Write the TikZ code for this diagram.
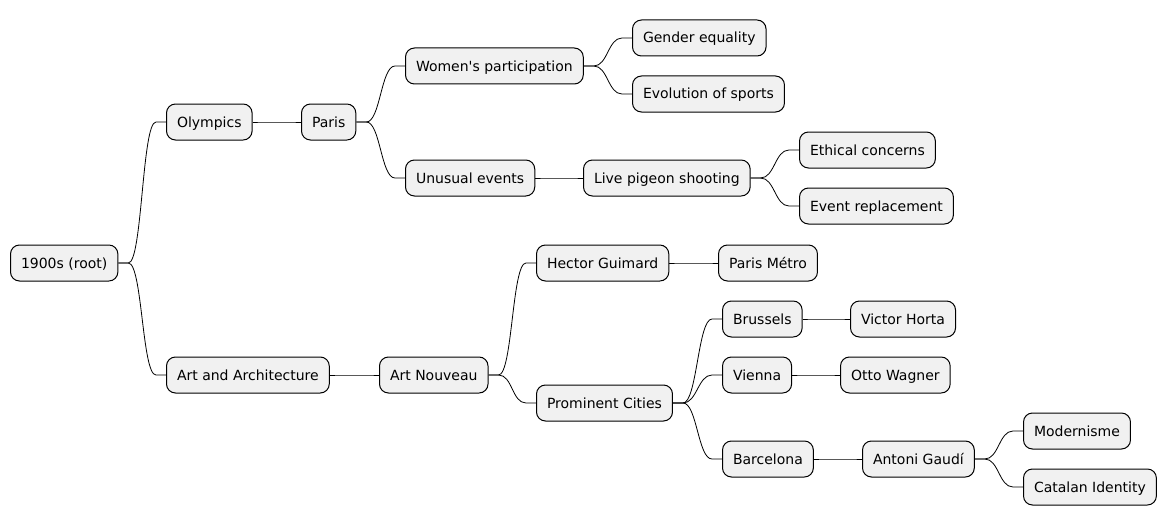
\documentclass[tikz,border=0pt]{standalone}
\usepackage{fontspec}
\setmainfont{DejaVu Sans}
\usetikzlibrary{calc}

\definecolor{boxfill}{HTML}{F1F1F1}
\tikzset{
  mmbox/.style={draw=black, fill=boxfill, line width=1pt, rounded corners=9pt,
    minimum height=36pt, inner xsep=10.5pt, inner ysep=0pt, anchor=west,
    text height=12pt, text depth=2pt,
    font=\fontsize{14}{16}\selectfont},
  link/.style={draw=black, line width=0.8pt}
}
% parent -> child connector
\newcommand{\branch}[2]{%
  \draw[link] (#1.east) -- ++(10,0) .. controls +(14,0) and +(-14,0) ..
    ($(#2.west)+(-10,0)$) -- (#2.west);}

\begin{document}
\begin{tikzpicture}[x=1pt,y=-1pt]
\useasboundingbox (0,0) rectangle (1165,527);

% Level 0 and 1
\node[mmbox] (root) at (10,263) {1900s (root)};
\node[mmbox] (olympics) at (166,122) {Olympics};
\node[mmbox] (artarch) at (166,375) {Art and Architecture};

% Olympics branch
\node[mmbox] (paris) at (301,122) {Paris};
\node[mmbox] (women) at (405,66) {Women\textquotesingle s participation};
\node[mmbox] (gender) at (632,38) {Gender equality};
\node[mmbox] (evolution) at (632,94) {Evolution of sports};
\node[mmbox] (unusual) at (405,178) {Unusual events};
\node[mmbox] (pigeon) at (583,178) {Live pigeon shooting};
\node[mmbox] (ethical) at (799,150) {Ethical concerns};
\node[mmbox] (replace) at (799,206) {Event replacement};

% Art branch
\node[mmbox] (nouveau) at (379,375) {Art Nouveau};
\node[mmbox] (guimard) at (536,263) {Hector Guimard};
\node[mmbox] (metro) at (718,263) {Paris Métro};
\node[mmbox] (cities) at (536,403) {Prominent Cities};
\node[mmbox] (brussels) at (722,319) {Brussels};
\node[mmbox] (horta) at (850,319) {Victor Horta};
\node[mmbox] (vienna) at (722,375) {Vienna};
\node[mmbox] (wagner) at (840,375) {Otto Wagner};
\node[mmbox] (barcelona) at (722,459) {Barcelona};
\node[mmbox] (gaudi) at (862,459) {Antoni Gaudí};
\node[mmbox] (modernisme) at (1023,431) {Modernisme};
\node[mmbox] (catalan) at (1023,487) {Catalan Identity};

% Connectors
\branch{root}{olympics}
\branch{root}{artarch}
\branch{olympics}{paris}
\branch{paris}{women}
\branch{paris}{unusual}
\branch{women}{gender}
\branch{women}{evolution}
\branch{unusual}{pigeon}
\branch{pigeon}{ethical}
\branch{pigeon}{replace}
\branch{artarch}{nouveau}
\branch{nouveau}{guimard}
\branch{nouveau}{cities}
\branch{guimard}{metro}
\branch{cities}{brussels}
\branch{cities}{vienna}
\branch{cities}{barcelona}
\branch{brussels}{horta}
\branch{vienna}{wagner}
\branch{barcelona}{gaudi}
\branch{gaudi}{modernisme}
\branch{gaudi}{catalan}
\end{tikzpicture}
\end{document}
